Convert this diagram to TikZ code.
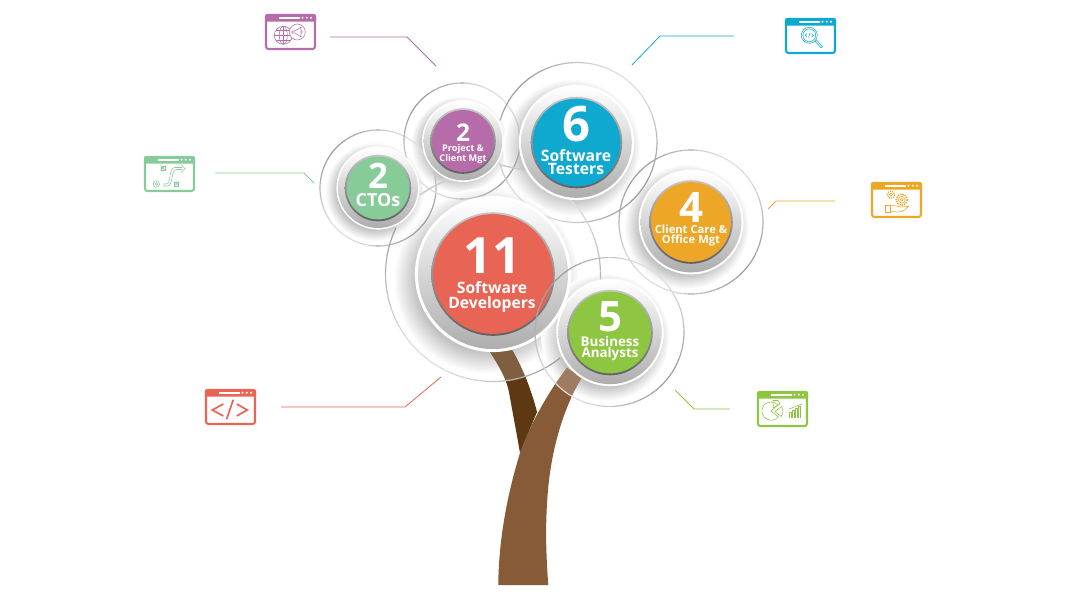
\documentclass[tikz,border=0pt]{standalone}
\usepackage{fontspec}
\setmainfont{Open Sans}[BoldFont={Open Sans Bold}]
\newfontfamily\labelfont{Open Sans}[BoldFont={Open Sans Bold}]
\newfontfamily\numfont{Open Sans}[BoldFont={Open Sans Bold}]
\definecolor{cCto}{HTML}{86CB98}
\definecolor{cPm}{HTML}{B56CA8}
\definecolor{cTest}{HTML}{0FA9D0}
\definecolor{cCare}{HTML}{EDA625}
\definecolor{cDev}{HTML}{E86556}
\definecolor{cBa}{HTML}{8EC641}
\definecolor{cTrunk}{HTML}{875B37}
\definecolor{cBranch}{HTML}{5E3812}
% the path's edge falls at 25bp of this shading
\pgfdeclareradialshading{discshadow}{\pgfpoint{0bp}{0bp}}{%
  color(0bp)=(black!30); color(19bp)=(black!30); color(21bp)=(black!20); color(25bp)=(white); color(50bp)=(white)}
\tikzset{
  num/.style={text=white,inner sep=0pt},
  lab/.style={text=white,inner sep=0pt,align=center},
  leader/.style={line width=0.8pt},
  winglyph/.style={line width=0.55pt},
}
% thin ring arc drawn in short pieces so its grey can vary with the angle
\newcommand{\ringarc}[5]{%
  \pgfmathtruncatemacro{\nseg}{max(2,int((#5-#4)/4))}%
  \pgfmathsetmacro{\dstep}{(#5-#4)/\nseg}%
  \foreach \k in {1,...,\nseg}{%
    \pgfmathsetmacro{\aa}{#4+\dstep*(\k-1)}%
    \pgfmathsetmacro{\ab}{#4+\dstep*\k}%
    \pgfmathtruncatemacro{\lvl}{26+13*cos(2*(\aa-140))}%
    \draw[black!\lvl,line width=1.2pt]
      ({#1+#3*cos(\aa)},{#2-#3*sin(\aa)}) -- ({#1+#3*cos(\ab)},{#2-#3*sin(\ab)});
  }}
% soft shadow that falls to the lower left of a disc
\newcommand{\discshadow}[3]{%
  \shade[shading=discshadow] ({#1-0.11*#3},{#2+0.11*#3}) circle [radius={1.52*#3}];}
% white translucent veil inside a ring
\newcommand{\veil}[3]{\fill[white,opacity=0.2] (#1,#2) circle [radius=#3];}
% raised disc: white rim, grey dish, dark edge, coloured face
\newcommand{\raiseddisc}[4]{%
  \fill[white] (#1,#2) circle [radius={1.28*#3}];
  \shade[shading angle=-70,top color=white,bottom color=black!32]
    (#1,#2) circle [radius={1.23*#3}];
  \shade[top color=black!22,bottom color=black!62] (#1,#2) circle [radius={#3+0.8}];
  \fill[#4] (#1,#2) circle [radius={#3-1.1}];}
% browser window frame with title bar; its contents follow in a scope
\newcommand{\winframe}[3]{%
  \fill[#1,rounded corners=2pt] (#2,#3) rectangle ++(51,7.5);
  \draw[#1,line width=2.1pt,rounded corners=2.5pt] ({#2+1},{#3+1}) rectangle ({#2+50},{#3+35});
  \fill[white] ({#2+14},{#3+2.7}) rectangle ({#2+34.5},{#3+4.7});
  \fill[white] ({#2+37.5},{#3+3.7}) circle [radius=1.1] ({#2+41.8},{#3+3.7}) circle [radius=1.1] ({#2+46},{#3+3.7}) circle [radius=1.1];}
\begin{document}
\begin{tikzpicture}[x=1pt,y=-1pt]
\useasboundingbox (0,0) rectangle (1080,600);
\fill[white] (0,0) rectangle (1080,600);

% cast shadows
\discshadow{378}{188}{32.5}
\discshadow{463}{141}{32}
\discshadow{576.5}{142.5}{45}
\discshadow{691}{222}{41}
\discshadow{493}{274}{61}
\discshadow{610}{332.5}{42}

% tree
\fill[cBranch] (489.3,351) .. controls (500,368) and (506,378) .. (509,392)
  .. controls (513,415) and (517,435) .. (520,453) -- (537,412)
  .. controls (532,392) and (523,368) .. (511.7,349) -- cycle;
\fill[cTrunk] (498.3,585) .. controls (498.5,550) and (504,505) .. (520,453)
  .. controls (530,425) and (548,392) .. (567,367.7) -- (581.7,378)
  .. controls (565,405) and (552,445) .. (548,490)
  .. controls (545,525) and (546,555) .. (548.3,585) -- cycle;

% veils
\veil{378}{188}{58}
\veil{462}{141}{58}
\veil{577}{142.5}{80}
\veil{691}{222}{72}
\veil{493}{274}{107.5}
\veil{609.5}{332}{74.5}

% rings and the short twigs between them
\ringarc{378}{188}{58}{0}{360}
\ringarc{462}{141}{58}{0}{360}
\ringarc{577}{142.5}{80}{-165}{164}
\ringarc{691}{222}{72}{0}{360}
\ringarc{493}{274}{107.5}{-3}{44}
\ringarc{493}{274}{107.5}{154.5}{308.6}
\draw[black!20,line width=1.5pt] (420,195) .. controls (428,189) and (438,184) .. (447,180);
\draw[black!20,line width=1.5pt] (500,165) .. controls (510,167) and (520,169) .. (527,172);

% discs
\raiseddisc{378}{188}{32.5}{cCto}
\raiseddisc{463}{141}{32}{cPm}
\raiseddisc{576.5}{142.5}{45}{cTest}
\raiseddisc{691}{222}{41}{cCare}
\raiseddisc{493}{274}{61}{cDev}
\ringarc{609.5}{332}{74.5}{0}{360}
\raiseddisc{610}{332.5}{42}{cBa}

% disc labels
\node[num,font=\numfont\bfseries\fontsize{35}{35}\selectfont] (ctoN) at (378,176) {2};
\node[lab,font=\labelfont\bfseries\fontsize{18}{18}\selectfont] (ctoL) at (378,200.5) {CTOs};
\node[num,font=\numfont\bfseries\fontsize{24.5}{24.5}\selectfont] (pmN) at (463,133) {2};
\node[lab,font=\labelfont\bfseries\fontsize{9.2}{9}\selectfont] (pmL) at (463,154) {Project \&\\Client Mgt};
\node[num,font=\numfont\bfseries\fontsize{49}{49}\selectfont] (testN) at (576,124) {6};
\node[lab,font=\labelfont\bfseries\fontsize{15.7}{12.4}\selectfont] (testL) at (576,162) {Software\\Testers};
\node[num,font=\numfont\bfseries\fontsize{42}{42}\selectfont] (careN) at (691,208) {4};
\node[lab,font=\labelfont\bfseries\fontsize{11.2}{10}\selectfont] (careL) at (691,235.5) {Client Care \&\\Office Mgt};
\node[num,font=\numfont\bfseries\fontsize{50}{50}\selectfont] (devN) at (492,256) {11};
\node[lab,font=\labelfont\bfseries\fontsize{15.7}{14.7}\selectfont] (devL) at (492,296.8) {Software\\Developers};
\node[num,font=\numfont\bfseries\fontsize{42}{42}\selectfont] (baN) at (610,316.5) {5};
\node[lab,font=\labelfont\bfseries\fontsize{13.4}{10.3}\selectfont] (baL) at (610,348.3) {Business\\Analysts};

% leader lines
\coordinate (pmS) at (330,37); \coordinate (pmK) at (407,37); \coordinate (pmE) at (436,66);
\draw[leader,cPm] (pmS) -- (pmK) -- (pmE);
\coordinate (testS) at (734,36); \coordinate (testK) at (660,36); \coordinate (testE) at (632,65);
\draw[leader,cTest] (testS) -- (testK) -- (testE);
\coordinate (ctoS) at (215,173); \coordinate (ctoK) at (304,173); \coordinate (ctoE) at (314,183);
\draw[leader,cCto] (ctoS) -- (ctoK) -- (ctoE);
\coordinate (careS) at (835,201); \coordinate (careK) at (776,201); \coordinate (careE) at (768,209);
\draw[leader,cCare] (careS) -- (careK) -- (careE);
\coordinate (baS) at (730,409); \coordinate (baK) at (694,409); \coordinate (baE) at (675,390);
\draw[leader,cBa] (baS) -- (baK) -- (baE);
\coordinate (devS) at (281,407); \coordinate (devK) at (405,407); \coordinate (devE) at (441,377);
\draw[leader,cDev] (devS) -- (devK) -- (devE);

% project management window: globe and megaphone
\winframe{cPm}{265}{14}
\begin{scope}[shift={(265,14)},winglyph,cPm]
  \draw (18.3,21.3) circle [radius=9];
  \draw (18.3,21.3) ellipse [x radius=4,y radius=9];
  \draw (9.3,21.3) -- (27.3,21.3) (10.8,16.5) -- (25.8,16.5) (10.8,26.1) -- (25.8,26.1) (18.3,12.3) -- (18.3,30.3);
  \fill[white] (32.3,18) circle [radius=8];
  \draw (32.3,18) circle [radius=8];
  \draw (27,17) -- (30,17) -- (36,13) -- (36,23) -- (30,19) -- (27,19) -- cycle (36,18) -- (38,18);
\end{scope}

% testing window: magnifier over code
\winframe{cTest}{785}{18}
\begin{scope}[shift={(785,18)},winglyph,cTest]
  \draw (24.3,17.3) circle [radius=8];
  \draw (24.3,17.3) circle [radius=6.4];
  \draw (30,23) -- (36,30) -- (37.5,28.5) -- (31.2,21.8);
  \draw (22,15.5) -- (20.2,17.3) -- (22,19.1) (26.6,15.5) -- (28.4,17.3) -- (26.6,19.1) (25,15) -- (23.6,19.6);
\end{scope}

% strategy window: play diagram
\winframe{cCto}{144}{156}
\begin{scope}[shift={(144,156)},winglyph,cCto]
  \draw (16.5,9.5) -- (21.5,14.5) (21.5,9.5) -- (16.5,14.5);
  \draw (17,10) rectangle (21,14);
  \draw (30,25.5) -- (35,30.5) (35,25.5) -- (30,30.5);
  \draw (30.5,26) rectangle (34.5,30);
  \draw (12.3,28) circle [radius=3.2] (12.3,28) circle [radius=1.4];
  \draw (19,28) -- (22,28) .. controls (28,28) and (24,11.5) .. (31,11.5) -- (38,11.5);
  \draw (19,30) -- (23,30) .. controls (30,30) and (26,13.5) .. (33,13.5) -- (38,13.5);
  \draw (37,8.5) -- (41,12.5) -- (37,16.5);
\end{scope}

% client care window: gears over an open hand
\winframe{cCare}{871}{182}
\begin{scope}[shift={(871,182)},winglyph,cCare]
  \draw[densely dotted,line width=1.2pt] (20,12.7) circle [radius=3.6];
  \draw (20,12.7) circle [radius=1.6];
  \draw[densely dotted,line width=1.4pt] (30.7,17.7) circle [radius=5.6];
  \draw (30.7,17.7) circle [radius=3.4] (30.7,17.7) circle [radius=1.6];
  \draw (14.3,23) rectangle (19,30);
  \draw (19,24) .. controls (24,22.5) and (27,25) .. (30,25) -- (37.5,24.3)
    .. controls (34,28) and (30,30.5) .. (26,30) -- (19,29);
\end{scope}

% analysis window: pie and bar chart
\winframe{cBa}{757}{391}
\begin{scope}[shift={(757,391)},winglyph,cBa]
  \draw (14,20) -- (21,13.5) .. controls (17,10) and (10,10.5) .. (7,14)
    .. controls (3,19) and (5,26.5) .. (10.5,28.5) .. controls (14.5,30) and (18.5,29) .. (21.5,26) -- cycle;
  \draw (16.5,17) -- (16,9.5) -- (21,9.5) -- (23,13) -- cycle;
  \draw (18,20.5) -- (24.5,15.5) .. controls (26.5,19) and (26.5,22.5) .. (24,25.5) -- cycle;
  \draw (32.5,26.7) -- (32.5,21.5) -- (34.5,21.5) -- (34.5,26.7) (35.5,26.7) -- (35.5,19.5) -- (37.5,19.5) -- (37.5,26.7)
    (38.5,26.7) -- (38.5,17.5) -- (40.5,17.5) -- (40.5,26.7) (41.5,26.7) -- (41.5,15) -- (43.5,15) -- (43.5,26.7);
  \draw (32,18) -- (44.5,13);
\end{scope}

% development window: code brackets
\winframe{cDev}{205}{389}
\begin{scope}[shift={(205,389)},cDev,line width=1.7pt]
  \draw (18.3,15) -- (7.3,21) -- (18.3,27);
  \draw (28.3,10.7) -- (21.7,30);
  \draw (31.7,15) -- (42.3,21) -- (31.7,27);
\end{scope}
\end{tikzpicture}
\end{document}
